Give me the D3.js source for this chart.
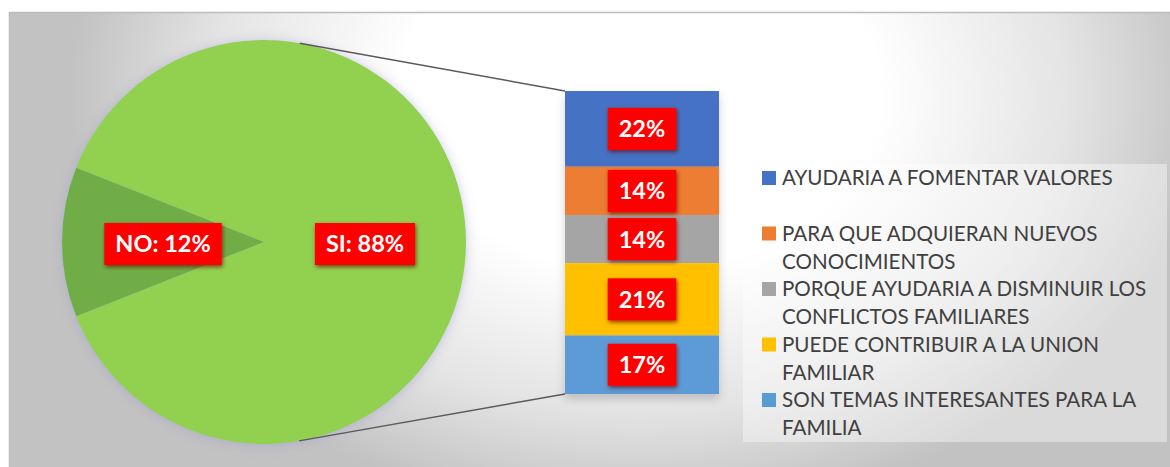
<!DOCTYPE html>
<html>
<head>
<meta charset="utf-8">
<script src="https://cdn.jsdelivr.net/npm/d3@7"></script>
<style>
  html, body { margin: 0; padding: 0; background: #ffffff; }
  svg { display: block; }
</style>
</head>
<body>
<svg id="chart" width="1170" height="467"></svg>
<script>
// Main pie: answers
const pieCategories = ["SI", "NO"];
const pieValues = [88, 12];
const pieColors = ["#92D050", "#70AD47"];

// Breakdown of "SI" shown in the stacked bar
const barCategories = [
  "AYUDARIA A FOMENTAR VALORES",
  "PARA QUE ADQUIERAN NUEVOS CONOCIMIENTOS",
  "PORQUE AYUDARIA A DISMINUIR LOS CONFLICTOS FAMILIARES",
  "PUEDE CONTRIBUIR A LA UNION FAMILIAR",
  "SON TEMAS INTERESANTES PARA LA FAMILIA"
];
const barValues = [22, 14, 14, 21, 17];
const barColors = ["#4472C4", "#ED7D31", "#A5A5A5", "#FFC000", "#5B9BD5"];

const svg = d3.select("#chart");
const W = 1170, H = 467;
const defs = svg.append("defs");

// Background fill of the chart area
const bg = defs.append("radialGradient")
  .attr("id", "bgGrad")
  .attr("gradientUnits", "userSpaceOnUse")
  .attr("cx", 0).attr("cy", 0).attr("r", 1)
  .attr("gradientTransform", "translate(640,95) scale(570,420)");
bg.append("stop").attr("offset", 0).attr("stop-color", "#ffffff");
bg.append("stop").attr("offset", 0.42).attr("stop-color", "#ffffff");
bg.append("stop").attr("offset", 0.75).attr("stop-color", "#e4e4e4");
bg.append("stop").attr("offset", 1).attr("stop-color", "#c2c2c2");

// Soft shadows
const pieShadow = defs.append("filter").attr("id", "pieShadow")
  .attr("x", "-20%").attr("y", "-20%").attr("width", "140%").attr("height", "140%");
pieShadow.append("feGaussianBlur").attr("in", "SourceAlpha").attr("stdDeviation", 6).attr("result", "b");
pieShadow.append("feOffset").attr("in", "b").attr("dx", 0).attr("dy", 1).attr("result", "o");
pieShadow.append("feFlood").attr("flood-color", "#9a9ad0").attr("flood-opacity", 0.5);
pieShadow.append("feComposite").attr("in2", "o").attr("operator", "in").attr("result", "s");
const pm = pieShadow.append("feMerge");
pm.append("feMergeNode").attr("in", "s");
pm.append("feMergeNode").attr("in", "SourceGraphic");

const barShadow = defs.append("filter").attr("id", "barShadow")
  .attr("x", "-20%").attr("y", "-20%").attr("width", "140%").attr("height", "140%");
barShadow.append("feGaussianBlur").attr("in", "SourceAlpha").attr("stdDeviation", 5).attr("result", "b");
barShadow.append("feOffset").attr("in", "b").attr("dx", 0).attr("dy", 5).attr("result", "o");
barShadow.append("feFlood").attr("flood-color", "#000000").attr("flood-opacity", 0.18);
barShadow.append("feComposite").attr("in2", "o").attr("operator", "in").attr("result", "s");
const bm = barShadow.append("feMerge");
bm.append("feMergeNode").attr("in", "s");
bm.append("feMergeNode").attr("in", "SourceGraphic");

const lblShadow = defs.append("filter").attr("id", "lblShadow")
  .attr("x", "-30%").attr("y", "-30%").attr("width", "160%").attr("height", "160%");
lblShadow.append("feGaussianBlur").attr("in", "SourceAlpha").attr("stdDeviation", 2.2).attr("result", "b");
lblShadow.append("feOffset").attr("in", "b").attr("dx", 1).attr("dy", 2).attr("result", "o");
lblShadow.append("feFlood").attr("flood-color", "#6a0000").attr("flood-opacity", 0.7);
lblShadow.append("feComposite").attr("in2", "o").attr("operator", "in").attr("result", "s");
const lm = lblShadow.append("feMerge");
lm.append("feMergeNode").attr("in", "s");
lm.append("feMergeNode").attr("in", "SourceGraphic");

// Chart area
svg.append("rect")
  .attr("x", 9.5).attr("y", 12.5)
  .attr("width", W + 20).attr("height", H + 20)
  .attr("fill", "url(#bgGrad)")
  .attr("stroke", "#bcbcbc").attr("stroke-width", 1.5);

// Pie geometry
const cx = 264, cy = 242, R = 202;
const noShare = pieValues[1] / d3.sum(pieValues);
const startA = -Math.PI / 2 + noShare * Math.PI; // centres the NO slice on the left
const pie = d3.pie().sort(null).startAngle(startA).endAngle(startA + 2 * Math.PI);
const arcs = pie(pieValues);
const arc = d3.arc().innerRadius(0).outerRadius(R);

// Stacked bar geometry
const barX0 = 565, barX1 = 719, barTop = 91, barBottom = 394;
const y = d3.scaleLinear().domain([0, d3.sum(barValues)]).range([barTop, barBottom]);
const cum = d3.cumsum([0].concat(barValues));
const segs = barValues.map((v, i) => ({ v, i, y0: y(cum[i]), y1: y(cum[i + 1]) }));

// Connector lines: tangents from the bar's left corners to the pie
function tangent(px, py, sign) {
  const vx = px - cx, vy = py - cy;
  const d = Math.hypot(vx, vy);
  const phi = Math.atan2(vy, vx);
  const a = phi + sign * Math.acos(R / d);
  return [cx + R * Math.cos(a), cy + R * Math.sin(a)];
}
const tTop = tangent(barX0, y.range()[0], -1);
const tBot = tangent(barX0, y.range()[1], 1);

// Pie
const gPie = svg.append("g").attr("transform", `translate(${cx},${cy})`);
gPie.append("g").attr("filter", "url(#pieShadow)")
  .selectAll("path").data(arcs).join("path")
  .attr("d", arc)
  .attr("fill", (d, i) => pieColors[i]);

svg.append("line")
  .attr("x1", tTop[0]).attr("y1", tTop[1]).attr("x2", barX0).attr("y2", y.range()[0])
  .attr("stroke", "#5a5a5a").attr("stroke-width", 1.4);
svg.append("line")
  .attr("x1", tBot[0]).attr("y1", tBot[1]).attr("x2", barX0).attr("y2", y.range()[1])
  .attr("stroke", "#5a5a5a").attr("stroke-width", 1.4);

// Stacked bar
svg.append("g").attr("filter", "url(#barShadow)")
  .selectAll("rect").data(segs).join("rect")
  .attr("x", barX0).attr("width", barX1 - barX0)
  .attr("y", d => d.y0).attr("height", d => d.y1 - d.y0)
  .attr("fill", d => barColors[d.i]);

// Red data labels
function redLabel(parent, x, yy, text) {
  const g = parent.append("g").attr("transform", `translate(${x},${yy})`);
  const rect = g.append("rect").attr("fill", "#FF0000").attr("filter", "url(#lblShadow)");
  const t = g.append("text")
    .attr("text-anchor", "middle").attr("dy", "0.36em")
    .attr("font-family", "Lato, 'Open Sans', sans-serif")
    .attr("font-weight", 700).attr("font-size", 23.5)
    .attr("fill", "#ffffff").text(text);
  const w = t.node().getComputedTextLength() + 22;
  const h = 42;
  rect.attr("x", -w / 2).attr("y", -h / 2).attr("width", w).attr("height", h);
}

arcs.forEach((d, i) => {
  const c = arc.centroid(d);
  redLabel(svg, cx + c[0], cy + c[1] + 2, `${pieCategories[i]}: ${pieValues[i]}%`);
});
segs.forEach(d => {
  redLabel(svg, (barX0 + barX1) / 2, (d.y0 + d.y1) / 2, `${barValues[d.i]}%`);
});

// Legend
const legX = 743, legY = 164, legW = 424, legH = 278;
svg.append("rect")
  .attr("x", legX).attr("y", legY).attr("width", legW).attr("height", legH)
  .attr("fill", "#ffffff").attr("fill-opacity", 0.4);

const lineH = 28, itemH = 55.5, firstBase = 185, textX = 782, maxW = 384;
const gLeg = svg.append("g");
barCategories.forEach((name, i) => {
  const base = firstBase + i * itemH;
  gLeg.append("rect")
    .attr("x", 762).attr("y", base - 14).attr("width", 14).attr("height", 14)
    .attr("fill", barColors[i]);
  const t = gLeg.append("text")
    .attr("x", textX).attr("y", base)
    .attr("font-family", "Lato, 'Open Sans', sans-serif")
    .attr("font-size", 20.6).attr("fill", "#404040");
  // word wrap
  const words = name.split(" ");
  let line = [], lineNo = 0;
  let ts = t.append("tspan").attr("x", textX).attr("y", base);
  words.forEach(wd => {
    line.push(wd);
    ts.text(line.join(" "));
    if (ts.node().getComputedTextLength() > maxW && line.length > 1) {
      line.pop();
      ts.text(line.join(" "));
      line = [wd];
      lineNo++;
      ts = t.append("tspan").attr("x", textX).attr("y", base + lineNo * lineH).text(wd);
    }
  });
});
</script>
</body>
</html>
